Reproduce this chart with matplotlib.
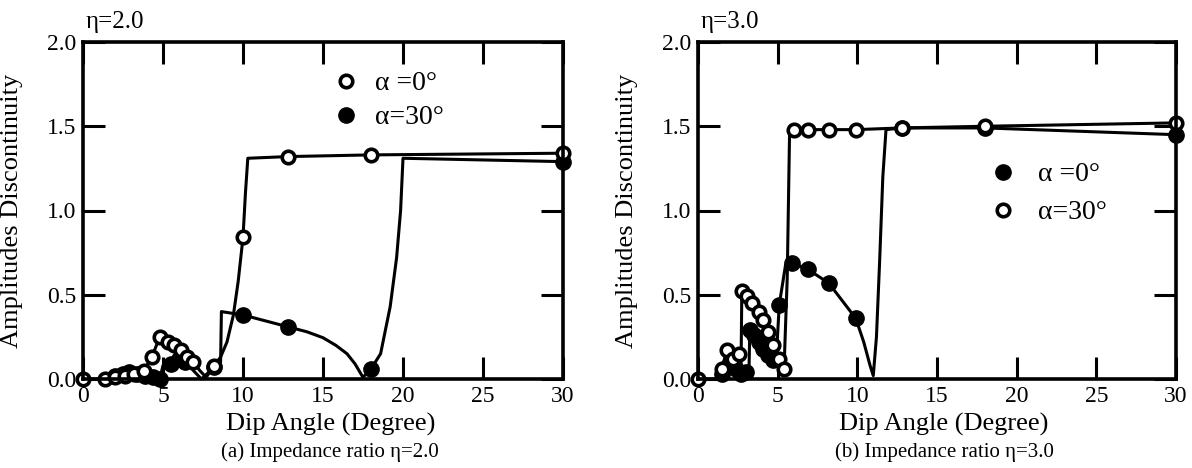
import matplotlib
matplotlib.use("Agg")
from matplotlib import pyplot as plt
from matplotlib.lines import Line2D

plt.rcParams['font.family'] = ['Liberation Serif', 'DejaVu Serif']

# ---- (a) impedance ratio 2.0 ----
A_OPEN_X = [0, 1.4, 2.0, 2.6, 3.2, 3.8, 4.3, 4.8, 5.3, 5.7, 6.1, 6.5, 6.9, 7.3, 7.7, 8.2,
            8.6, 9.0, 9.4, 9.7, 10.0, 10.15, 10.3, 12.8, 18.0, 30.0]
A_OPEN_Y = [0, 0, 0.01, 0.02, 0.03, 0.05, 0.13, 0.25, 0.22, 0.20, 0.17, 0.13, 0.10, 0.05, 0.01, 0.08,
            0.13, 0.22, 0.38, 0.58, 0.84, 1.10, 1.31, 1.32, 1.33, 1.34]
A_OPEN_MX = [0, 1.4, 2.0, 2.6, 3.2, 3.8, 4.3, 4.8, 5.3, 5.7, 6.1, 6.5, 6.9, 8.2, 10.0, 12.8, 18.0, 30.0]
A_OPEN_MY = [0, 0, 0.01, 0.02, 0.03, 0.05, 0.13, 0.25, 0.22, 0.20, 0.17, 0.13, 0.10, 0.08, 0.84, 1.32, 1.33, 1.34]

A_FILL_X = [1.4, 2.0, 2.5, 2.9, 3.4, 3.9, 4.4, 4.8, 5.0, 5.5, 6.0, 6.4, 6.9, 7.4, 8.2, 8.6, 8.65,
            10.0, 12.8, 14.0, 15.0, 15.8, 16.5, 17.0, 17.5, 18.0, 18.6, 19.2, 19.6, 19.85, 20.0, 30.0]
A_FILL_Y = [0, 0.02, 0.03, 0.04, 0.03, 0.02, 0.01, 0.0, 0.08, 0.09, 0.12, 0.10, 0.05, 0.0, 0.07, 0.10, 0.40,
            0.38, 0.31, 0.28, 0.245, 0.20, 0.15, 0.09, 0.01, 0.06, 0.15, 0.43, 0.72, 1.00, 1.31, 1.29]
A_FILL_MX = [2.0, 2.5, 2.9, 3.4, 3.9, 4.4, 4.8, 5.5, 6.0, 6.4, 8.2, 10.0, 12.8, 18.0, 30.0]
A_FILL_MY = [0.02, 0.03, 0.04, 0.03, 0.02, 0.01, 0.0, 0.09, 0.12, 0.10, 0.07, 0.38, 0.31, 0.06, 1.29]

# ---- (b) impedance ratio 3.0 ----
B_FILL_X = [1.2, 1.5, 1.8, 2.1, 2.4, 2.7, 3.0, 3.2, 3.25, 3.5, 3.8, 4.1, 4.4, 4.7, 4.9, 5.1, 5.5,
            5.9, 6.9, 8.2, 9.9, 10.4, 10.8, 11.0, 11.2, 11.4, 11.6, 11.8, 12.8, 18.0, 30.0]
B_FILL_Y = [0, 0.03, 0.07, 0.09, 0.06, 0.03, 0.04, 0.05, 0.29, 0.26, 0.22, 0.18, 0.14, 0.11, 0.10, 0.44, 0.68,
            0.69, 0.65, 0.57, 0.36, 0.22, 0.08, 0.02, 0.25, 0.70, 1.20, 1.48, 1.49, 1.49, 1.45]
B_FILL_MX = [1.5, 1.8, 2.1, 2.4, 2.7, 3.0, 3.25, 3.5, 3.8, 4.1, 4.4, 4.7, 5.1, 5.9, 6.9, 8.2, 9.9, 12.8, 18.0, 30.0]
B_FILL_MY = [0.03, 0.07, 0.09, 0.06, 0.03, 0.04, 0.29, 0.26, 0.22, 0.18, 0.14, 0.11, 0.44, 0.69, 0.65, 0.57, 0.36,
             1.49, 1.49, 1.45]

B_OPEN_X = [0, 1.2, 1.5, 1.8, 2.2, 2.6, 2.7, 2.75, 3.1, 3.4, 3.8, 4.1, 4.4, 4.7, 5.1, 5.4, 5.6, 5.75,
            6.0, 6.9, 8.2, 9.9, 12.8, 18.0, 30.0]
B_OPEN_Y = [0, 0, 0.06, 0.17, 0.12, 0.15, 0.06, 0.52, 0.49, 0.45, 0.40, 0.35, 0.28, 0.20, 0.12, 0.06, 0.60, 1.48,
            1.48, 1.48, 1.48, 1.48, 1.49, 1.50, 1.52]
B_OPEN_MX = [0, 1.5, 1.8, 2.2, 2.6, 2.75, 3.1, 3.4, 3.8, 4.1, 4.4, 4.7, 5.1, 5.4, 6.0, 6.9, 8.2, 9.9, 12.8, 18.0, 30.0]
B_OPEN_MY = [0, 0.06, 0.17, 0.12, 0.15, 0.52, 0.49, 0.45, 0.40, 0.35, 0.28, 0.20, 0.12, 0.06, 1.48, 1.48, 1.48,
             1.48, 1.49, 1.50, 1.52]

FS = 17
OPEN = dict(marker='o', ms=9, mfc='white', mec='black', mew=2.6, ls='none')
FILL = dict(marker='o', ms=11, mfc='black', mec='black', mew=1, ls='none')


def setup(ax, title, caption):
    ax.set_xlim(0, 30)
    ax.set_ylim(0, 2.0)
    ax.set_xticks(range(0, 31, 5))
    ax.set_yticks([0, 0.5, 1.0, 1.5, 2.0])
    ax.set_yticklabels(['0.0', '0.5', '1.0', '1.5', '2.0'])
    ax.tick_params(direction='in', length=16, width=2.2, labelsize=FS, pad=5,
                   top=True, right=True)
    for sp in ax.spines.values():
        sp.set_linewidth(2.6)
    ax.set_xlabel('Dip Angle (Degree)', fontsize=19)
    ax.xaxis.set_label_coords(0.515, -0.134)
    ax.xaxis.label.set_va('center')
    ax.set_ylabel('Amplitudes Discontinuity', fontsize=19)
    ax.yaxis.set_label_coords(-0.125, 0.5)
    ax.text(0.005, 1.06, title, transform=ax.transAxes, fontsize=18, va='center')
    ax.text(0.515, -0.217, caption, transform=ax.transAxes, fontsize=15, ha='center', va='center')


fig = plt.figure(figsize=(11.92, 4.68), dpi=100)
ax1 = fig.add_axes([83 / 1192, 1 - 379 / 468, 480 / 1192, 337 / 468])
ax2 = fig.add_axes([698 / 1192, 1 - 379 / 468, 478 / 1192, 337 / 468])

ax1.plot(A_FILL_X, A_FILL_Y, color='black', lw=2.2, clip_on=False)
ax1.plot(A_OPEN_X, A_OPEN_Y, color='black', lw=2.2, clip_on=False)
ax1.plot(A_FILL_MX, A_FILL_MY, clip_on=False, **FILL)
ax1.plot(A_OPEN_MX, A_OPEN_MY, clip_on=False, **OPEN)
h1 = [Line2D([], [], **OPEN), Line2D([], [], **FILL)]
ax1.legend(h1, ['α =0°', 'α=30°'], frameon=False, fontsize=20, loc='center left',
           bbox_to_anchor=(0.519, 0.826), borderpad=0, borderaxespad=0,
           handlelength=1.0, handletextpad=0.55, labelspacing=0.3)
setup(ax1, 'η=2.0', '(a) Impedance ratio η=2.0')

ax2.plot(B_FILL_X, B_FILL_Y, color='black', lw=2.2, clip_on=False)
ax2.plot(B_OPEN_X, B_OPEN_Y, color='black', lw=2.2, clip_on=False)
ax2.plot(B_FILL_MX, B_FILL_MY, clip_on=False, **FILL)
ax2.plot(B_OPEN_MX, B_OPEN_MY, clip_on=False, **OPEN)
h2 = [Line2D([], [], **FILL), Line2D([], [], **OPEN)]
ax2.legend(h2, ['α =0°', 'α=30°'], frameon=False, fontsize=20, loc='center left',
           bbox_to_anchor=(0.609, 0.55), borderpad=0, borderaxespad=0,
           handlelength=1.0, handletextpad=0.75, labelspacing=0.45)
setup(ax2, 'η=3.0', '(b) Impedance ratio η=3.0')

fig.savefig('out.png', dpi=100)
